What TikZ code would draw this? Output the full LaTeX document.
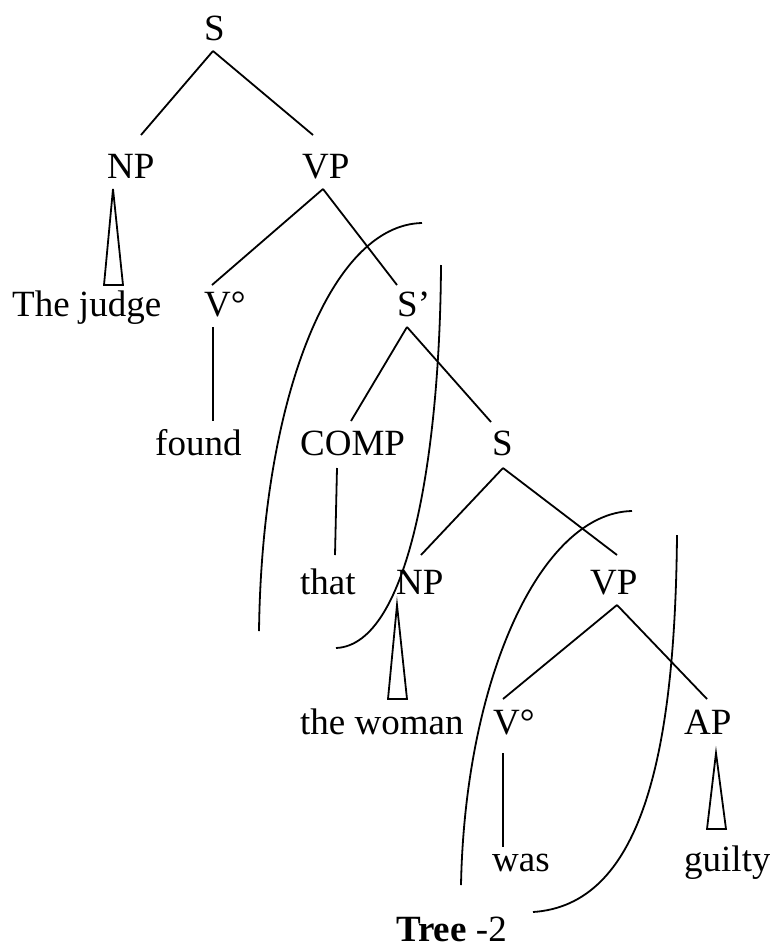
\documentclass[tikz,border=0pt]{standalone}
\usepackage{fontspec}
\setmainfont{Liberation Serif}
\tikzset{
  lbl/.style={anchor=base west, inner sep=0pt, font=\fontsize{37}{44}\selectfont},
  edge/.style={line width=1.8pt, line join=miter},
  bracket/.style={line width=1.8pt}
}
\begin{document}
\begin{tikzpicture}[x=1pt,y=-1pt]
\useasboundingbox (0,0) rectangle (770,948);
% labels
\node[lbl] (S1) at (204,40) {S};
\node[lbl] (NP1) at (107,178) {NP};
\node[lbl] (VP1) at (302,178) {VP};
\node[lbl] (judge) at (12,316) {The judge};
\node[lbl] (V1) at (204,316) {V°};
\node[lbl] (Sbar) at (397,316) {S’};
\node[lbl] (found) at (155,455) {found};
\node[lbl] (COMP) at (300,455) {COMP};
\node[lbl] (S2) at (492,455) {S};
\node[lbl] (that) at (300,594) {that};
\node[lbl] (NP2) at (396,594) {NP};
\node[lbl] (VP2) at (590,594) {VP};
\node[lbl] (woman) at (300,734) {the woman};
\node[lbl] (V2) at (493,734) {V°};
\node[lbl] (AP) at (684,734) {AP};
\node[lbl] (was) at (492,871) {was};
\node[lbl] (guilty) at (684,871) {guilty};
\node[lbl] (title) at (396,941) {\textbf{Tree} -2};
% branch end points
\coordinate (S1b) at (213,51);
\coordinate (NP1t) at (141,135);
\coordinate (VP1t) at (313,135);
\coordinate (NP1a) at (113,189);
\coordinate (NP1l) at (104,285);
\coordinate (NP1r) at (123,285);
\coordinate (VP1b) at (323,189);
\coordinate (V1t) at (212,285);
\coordinate (Sbart) at (397,285);
\coordinate (V1b) at (213,327);
\coordinate (foundt) at (213,421);
\coordinate (Sbarb) at (407,327);
\coordinate (COMPt) at (351,421);
\coordinate (S2t) at (491,422);
\coordinate (COMPb) at (337,468);
\coordinate (thatt) at (335,555);
\coordinate (S2b) at (503,468);
\coordinate (NP2t) at (421,555);
\coordinate (VP2t) at (617,555);
\coordinate (NP2a) at (397,605);
\coordinate (NP2l) at (388,699);
\coordinate (NP2r) at (407,699);
\coordinate (VP2b) at (617,605);
\coordinate (V2t) at (503,699);
\coordinate (APt) at (707,699);
\coordinate (V2b) at (503,753);
\coordinate (wast) at (503,847);
\coordinate (APa) at (716,753);
\coordinate (APl) at (707,829);
\coordinate (APr) at (726,829);
% bracket end points
\coordinate (c1a) at (422,223);
\coordinate (c1b) at (259,631);
\coordinate (c2a) at (441,265);
\coordinate (c2b) at (336,648);
\coordinate (c3a) at (632,511);
\coordinate (c3b) at (461,885);
\coordinate (c4a) at (677,535);
\coordinate (c4b) at (533,912);
% tree
\draw[edge] (S1b) -- (NP1t);
\draw[edge] (S1b) -- (VP1t);
\draw[edge] (NP1a) -- (NP1l) -- (NP1r) -- cycle;
\draw[edge] (VP1b) -- (V1t);
\draw[edge] (VP1b) -- (Sbart);
\draw[edge] (V1b) -- (foundt);
\draw[edge] (Sbarb) -- (COMPt);
\draw[edge] (Sbarb) -- (S2t);
\draw[edge] (COMPb) -- (thatt);
\draw[edge] (S2b) -- (NP2t);
\draw[edge] (S2b) -- (VP2t);
\draw[edge] (NP2a) -- (NP2l) -- (NP2r) -- cycle;
\draw[edge] (VP2b) -- (V2t);
\draw[edge] (VP2b) -- (APt);
\draw[edge] (V2b) -- (wast);
\draw[edge] (APa) -- (APl) -- (APr) -- cycle;
% brackets
\draw[bracket] (c1a) .. controls (330,225) and (262,400) .. (c1b);
\draw[bracket] (c2a) .. controls (440,450) and (410,645) .. (c2b);
\draw[bracket] (c3a) .. controls (540,513) and (465,680) .. (c3b);
\draw[bracket] (c4a) .. controls (675,760) and (640,905) .. (c4b);
\end{tikzpicture}
\end{document}
